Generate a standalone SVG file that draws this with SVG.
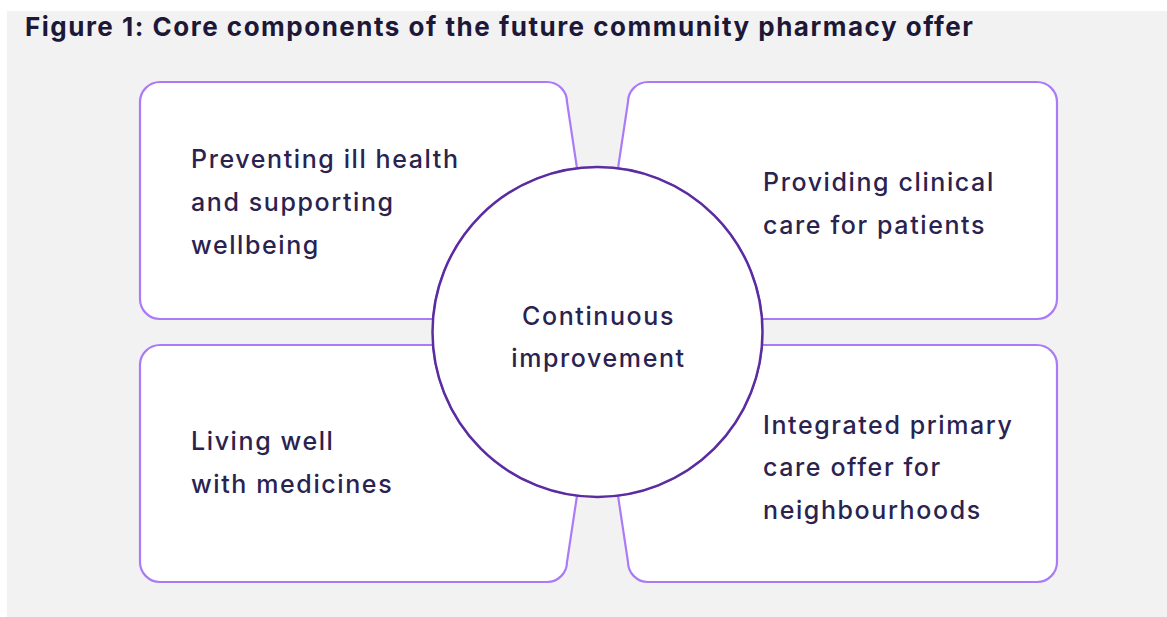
<svg xmlns="http://www.w3.org/2000/svg" width="1167" height="617" viewBox="0 0 1167 617">
  <style>
    .box { fill: #ffffff; stroke: #ab7bf7; stroke-width: 2.2; }
    .hub { fill: #ffffff; stroke: #5b2ca0; stroke-width: 2.5; }
    .lbl { font-family: Inter, "Liberation Sans", sans-serif; font-size: 25px; font-weight: 500; letter-spacing: 1.6px; fill: #2a2350; }
    .title { font-family: Inter, "Liberation Sans", sans-serif; font-size: 26px; letter-spacing: 1.5px; font-weight: 700; fill: #1d1838; }
  </style>
  <rect x="0" y="0" width="1167" height="617" fill="#ffffff"/>
  <rect x="7" y="11" width="1160" height="606" fill="#f2f2f2"/>
  <text class="title" x="25" y="36">Figure 1: Core components of the future community pharmacy offer</text>

  <g id="node-prevent">
    <path class="box" d="M 160 82 H 547 A 20 20 0 0 1 567 102 L 577 168.3 A 165 165 0 0 0 433 319 H 160 A 20 20 0 0 1 140 299 V 102 A 20 20 0 0 1 160 82 Z"/>
    <text class="lbl" x="191" y="168">Preventing ill health</text>
    <text class="lbl" x="191" y="211">and supporting</text>
    <text class="lbl" x="191" y="254">wellbeing</text>
  </g>
  <g id="node-clinical">
    <path class="box" d="M 648 82 H 1037 A 20 20 0 0 1 1057 102 V 299 A 20 20 0 0 1 1037 319 H 762 A 165 165 0 0 0 618 168.3 L 628 102 A 20 20 0 0 1 648 82 Z"/>
    <text class="lbl" x="763" y="191">Providing clinical</text>
    <text class="lbl" x="763" y="234">care for patients</text>
  </g>
  <g id="node-medicines">
    <path class="box" d="M 160 345 H 433 A 165 165 0 0 0 577 495.7 L 567 562 A 20 20 0 0 1 547 582 H 160 A 20 20 0 0 1 140 562 V 365 A 20 20 0 0 1 160 345 Z"/>
    <text class="lbl" x="191" y="450">Living well</text>
    <text class="lbl" x="191" y="493">with medicines</text>
  </g>
  <g id="node-integrated">
    <path class="box" d="M 762 345 H 1037 A 20 20 0 0 1 1057 365 V 562 A 20 20 0 0 1 1037 582 H 648 A 20 20 0 0 1 628 562 L 618 495.7 A 165 165 0 0 0 762 345 Z"/>
    <text class="lbl" x="763" y="434">Integrated primary</text>
    <text class="lbl" x="763" y="476">care offer for</text>
    <text class="lbl" x="763" y="519">neighbourhoods</text>
  </g>
  <g id="node-continuous">
    <circle class="hub" cx="597.5" cy="332" r="165"/>
    <text class="lbl" x="598.5" y="325" text-anchor="middle">Continuous</text>
    <text class="lbl" x="598.5" y="367" text-anchor="middle">improvement</text>
  </g>
  <g id="connectors"/>
</svg>
